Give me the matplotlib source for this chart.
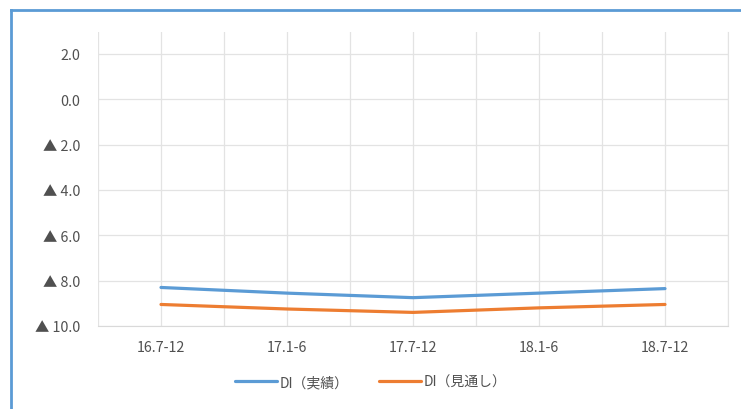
import matplotlib.pyplot as plt
from matplotlib.lines import Line2D
from matplotlib.ticker import FuncFormatter, MultipleLocator

plt.rcParams['font.family'] = ['Noto Sans CJK JP', 'DejaVu Sans']

periods = ['16.7-12', '17.1-6', '17.7-12', '18.1-6', '18.7-12']
di_actual = [-8.3, -8.55, -8.75, -8.55, -8.35]
di_outlook = [-9.05, -9.25, -9.4, -9.2, -9.05]

fig = plt.figure(figsize=(7.41, 4.10), dpi=100)
ax = fig.add_axes([98 / 741, 83 / 410, 630 / 741, 294 / 410])

x = list(range(len(periods)))
ax.plot(x, di_actual, color='#5b9bd5', lw=2.3, label='DI（実績）', solid_capstyle='round')
ax.plot(x, di_outlook, color='#ed7d31', lw=2.3, label='DI（見通し）', solid_capstyle='round')

ax.set_xlim(-0.5, len(periods) - 0.5)
ax.set_ylim(-10, 2.97)
ax.set_yticks([-10, -8, -6, -4, -2, 0, 2])


def fmt(v, pos):
    if v < 0:
        return '▲ %.1f' % abs(v)
    return '%.1f' % v


ax.yaxis.set_major_formatter(FuncFormatter(fmt))
ax.set_xticks(x)
ax.set_xticklabels(periods)
ax.xaxis.set_minor_locator(MultipleLocator(1, offset=0.5))

ax.grid(True, which='major', color='#e3e3e3', lw=0.9)
ax.grid(True, which='minor', axis='x', color='#e3e3e3', lw=0.9)
ax.set_axisbelow(True)
for s in ['top', 'left']:
    ax.spines[s].set_visible(False)
ax.spines['right'].set_color('#e3e3e3')
ax.spines['bottom'].set_color('#d9d9d9')
ax.tick_params(which='both', length=0, colors='#505050', labelsize=10.3)
ax.tick_params(axis='y', pad=13)
ax.tick_params(axis='x', pad=10)

fig.legend(loc='center', bbox_to_anchor=(0.5, 27 / 410), ncol=2, frameon=False,
           fontsize=10, labelcolor='#505050', handlelength=3.0, columnspacing=2.2,
           handletextpad=0.2)

# chart border
fig.add_artist(Line2D([11 / 741, 1], [1 - 11 / 410, 1 - 11 / 410], color='#5b9bd5', lw=2))
fig.add_artist(Line2D([11 / 741, 11 / 741], [0, 1 - 11 / 410], color='#5b9bd5', lw=2))

fig.savefig('out.png', dpi=100)
